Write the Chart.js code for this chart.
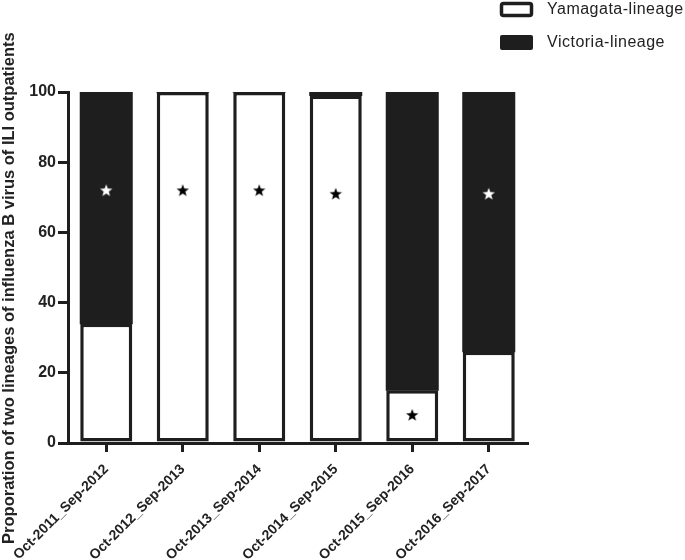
<!DOCTYPE html>
<html>
<head>
<meta charset="utf-8">
<script src="https://cdn.jsdelivr.net/npm/chart.js@4/dist/chart.umd.min.js"></script>
<style>
  html, body { margin: 0; padding: 0; background: #fff; }
  #wrap { width: 685px; height: 560px; }
</style>
</head>
<body>
<div id="wrap"><canvas id="chart"></canvas></div>
<script>
// seasons and lineage proportions (%)
const seasons = ['Oct-2011_Sep-2012', 'Oct-2012_Sep-2013', 'Oct-2013_Sep-2014', 'Oct-2014_Sep-2015', 'Oct-2015_Sep-2016', 'Oct-2016_Sep-2017'];
const yamagata = [34, 100, 100, 99, 15, 26];
const victoria = [66, 0, 0, 1, 85, 74];
// star markers
const starValues = [72, 72, 72, 71, 8, 71];
const starWhite = [true, false, false, false, false, true];
const yTicks = [0, 20, 40, 60, 80, 100];

const ink = '#1e1e1e';

// small canvas with a filled 5-point star, used as point style
function makeStar(color) {
    const c = document.createElement('canvas');
    c.width = 14; c.height = 14;
    const g = c.getContext('2d');
    g.fillStyle = color;
    g.beginPath();
    for (let i = 0; i < 10; i++) {
        const r = i % 2 === 0 ? 6.5 : 2.7;
        const a = -Math.PI / 2 + i * Math.PI / 5;
        g.lineTo(7 + r * Math.cos(a), 7.5 + r * Math.sin(a));
    }
    g.closePath();
    g.fill();
    return c;
}
const stars = { white: makeStar('#ffffff'), black: makeStar('#000000') };

// legend drawn top right (overlaps the plot width like the original)
const cornerLegend = {
    id: 'cornerLegend',
    afterDraw(chart) {
        const ctx = chart.ctx;
        ctx.save();
        ctx.lineWidth = 3.5;
        ctx.strokeStyle = ink;
        ctx.fillStyle = '#fff';
        ctx.beginPath();
        ctx.roundRect(501.5, 3.5, 30, 12, 2);
        ctx.fill();
        ctx.stroke();
        ctx.fillStyle = ink;
        ctx.beginPath();
        ctx.roundRect(500, 35, 33, 15, 2);
        ctx.fill();
        ctx.font = '16px "Liberation Sans", Arial, sans-serif';
        ctx.letterSpacing = '0.5px';
        ctx.textBaseline = 'middle';
        ctx.fillStyle = '#222';
        ctx.fillText(chart.data.datasets[1].label, 547, 10);
        ctx.fillText(chart.data.datasets[2].label, 547, 43);
        ctx.restore();
    }
};

const config = {
    type: 'bar',
    data: {
        labels: seasons,
        datasets: [
            {
                type: 'line',
                label: 'stars',
                data: starValues,
                stack: 'stars',
                order: -1,
                showLine: false,
                pointStyle: (c) => starWhite[c.dataIndex] ? stars.white : stars.black,
            },
            {
                label: 'Yamagata-lineage',
                data: yamagata,
                stack: 'lineage',
                backgroundColor: '#ffffff',
                borderColor: ink,
                borderWidth: 3.5,
                borderSkipped: false,
                barPercentage: 0.68,
                categoryPercentage: 1,
            },
            {
                label: 'Victoria-lineage',
                data: victoria,
                stack: 'lineage',
                backgroundColor: ink,
                borderWidth: 0,
                inflateAmount: 0.5,
                barPercentage: 0.68,
                categoryPercentage: 1,
            },
        ],
    },
    options: {
        responsive: true,
        maintainAspectRatio: false,
        animation: false,
        layout: { padding: { top: 92, right: 158, bottom: 0, left: 0 } },
        plugins: {
            legend: { display: false },
            tooltip: { enabled: false },
        },
        scales: {
            x: {
                stacked: true,
                offset: true,
                // rotated labels may spill left of the axis, like the original
                afterFit: (s) => { s.height = 117; s.paddingLeft = 0; s.paddingRight = 0; },
                grid: { offset: false, drawOnChartArea: false, tickLength: 9, color: ink, lineWidth: 3 },
                border: { color: ink, width: 3 },
                ticks: {
                    color: '#222',
                    maxRotation: 45,
                    minRotation: 45,
                    padding: 9,
                    font: { family: '"Liberation Sans", Arial, sans-serif', size: 14, weight: 'bold' },
                },
            },
            y: {
                stacked: true,
                min: 0,
                max: 100,
                afterFit: (s) => { s.width = 68; },
                afterBuildTicks: (s) => { s.ticks = yTicks.map(v => ({ value: v })); },
                grid: { drawOnChartArea: false, tickLength: 10, color: ink, lineWidth: 3 },
                border: { color: ink, width: 3 },
                title: {
                    display: true,
                    // trailing spaces nudge the centred title down, as in the original
                    text: 'Proporation of two lineages of influenza B virus of ILI outpatients' + '\u00a0'.repeat(9),
                    color: '#222',
                    padding: { top: 0, bottom: 0 },
                    font: { family: '"Liberation Sans", Arial, sans-serif', size: 16.5, weight: 'bold' },
                },
                ticks: {
                    color: '#222',
                    padding: 2,
                    font: { family: '"Liberation Sans", Arial, sans-serif', size: 16, weight: 'bold' },
                },
            },
        },
    },
    plugins: [cornerLegend],
};

new Chart(document.getElementById('chart').getContext('2d'), config);
</script>
</body>
</html>
